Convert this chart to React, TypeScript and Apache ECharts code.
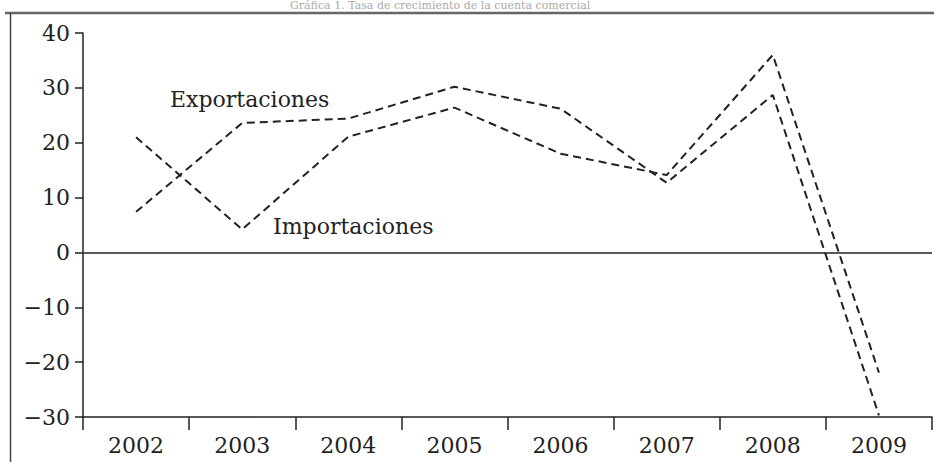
import React, { useEffect, useRef } from "react";
import * as echarts from "echarts";

const years = ["2002", "2003", "2004", "2005", "2006", "2007", "2008", "2009"];
const exportaciones = [7.4, 23.6, 24.4, 30.2, 26.2, 12.7, 28.7, -29.7];
const importaciones = [21.0, 4.2, 21.1, 26.4, 18.0, 14.1, 36.0, -21.9];
const yTicks = { min: -30, max: 40, interval: 10 };
const titleText = "Gráfica 1. Tasa de crecimiento de la cuenta comercial";
const seriesNames = ["Exportaciones", "Importaciones"];

const FONT = "DejaVu Serif";
const INK = "#222";

export default function App() {
  const ref = useRef<HTMLDivElement>(null);
  useEffect(() => {
    if (!ref.current) return;
    const chart = echarts.init(ref.current, null, { renderer: "svg" });
    const lineStyle = { color: INK, width: 2, type: [8, 5] as number[] };
    chart.setOption({
      animation: false,
      backgroundColor: "#fff",
      grid: { left: 83, right: 2, top: 33, bottom: 45, containLabel: false },
      xAxis: {
        type: "category",
        data: years,
        axisLine: { onZero: false, lineStyle: { color: INK, width: 1.5 } },
        axisTick: { show: true, length: 13, lineStyle: { color: INK, width: 1.5 } },
        axisLabel: { color: INK, fontFamily: FONT, fontSize: 22, margin: 17 },
      },
      yAxis: {
        type: "value",
        min: yTicks.min,
        max: yTicks.max,
        interval: yTicks.interval,
        splitLine: { show: false },
        axisLine: { show: true, lineStyle: { color: INK, width: 1.5 } },
        axisTick: { show: true, length: 8, lineStyle: { color: INK, width: 1.5 } },
        axisLabel: {
          color: INK,
          fontFamily: FONT,
          fontSize: 22,
          margin: 13,
          formatter: (v: number) => String(v).replace("-", "\u2212"),
        },
      },
      series: [
        {
          name: seriesNames[0],
          type: "line",
          data: exportaciones,
          symbol: "none",
          lineStyle,
          markLine: {
            silent: true,
            symbol: "none",
            label: { show: false },
            lineStyle: { color: INK, width: 1.5, type: "solid" },
            data: [{ yAxis: 0 }],
          },
        },
        {
          name: seriesNames[1],
          type: "line",
          data: importaciones,
          symbol: "none",
          lineStyle,
        },
      ],
      graphic: [
        {
          type: "text",
          left: 290,
          top: 0,
          style: { text: titleText, fill: "#aaa", fontFamily: FONT, fontSize: 11 },
        },
        {
          type: "line",
          shape: { x1: 5, y1: 13, x2: 934, y2: 13 },
          style: { stroke: "#666", lineWidth: 2.5 },
        },
        {
          type: "line",
          shape: { x1: 10.5, y1: 13, x2: 10.5, y2: 462 },
          style: { stroke: "#444", lineWidth: 1.5 },
        },
        {
          type: "text",
          left: 170,
          top: 88,
          style: { text: seriesNames[0], fill: INK, fontFamily: FONT, fontSize: 22 },
        },
        {
          type: "text",
          left: 273,
          top: 215,
          style: { text: seriesNames[1], fill: INK, fontFamily: FONT, fontSize: 22 },
        },
      ],
    });
    return () => chart.dispose();
  }, []);
  return (
    <div
      ref={ref}
      style={{ position: "fixed", left: 0, top: 0, width: 934, height: 462 }}
    />
  );
}
